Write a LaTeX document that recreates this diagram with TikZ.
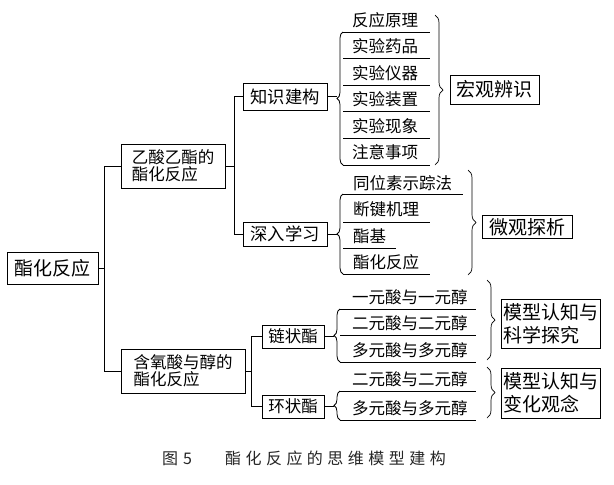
\documentclass[tikz,border=0pt]{standalone}
\usepackage{fontspec}
\setmainfont{Noto Sans CJK SC}
\newfontfamily\capfont[LetterSpace=28]{Noto Sans CJK SC}
\usetikzlibrary{decorations.pathreplacing}
\begin{document}
\begin{tikzpicture}[x=1pt,y=1pt,
  ln/.style={line width=0.8pt},
  bx/.style={draw, line width=0.9pt, inner sep=0pt, font=\fontsize{19}{23}\selectfont},
  mid/.style={draw, line width=0.9pt, inner sep=0pt, font=\fontsize{16.5}{17.5}\selectfont},
  midb/.style={draw, line width=0.9pt, inner sep=0pt, font=\fontsize{17.3}{19}\selectfont},
  item/.style={anchor=west, inner sep=0pt, font=\fontsize{16.5}{18}\selectfont},
  lbrace/.style={decorate, decoration={brace, amplitude=6pt}, line width=0.8pt},
  rbrace/.style={decorate, decoration={brace, amplitude=8pt}, line width=0.7pt}]
\fill[white] (0,0) rectangle (614,-485);
\useasboundingbox (0,0) rectangle (614,-485);
% boxes
\node[bx, minimum width=91pt, minimum height=32pt] (root) at (52.5,-268) {酯化反应};
\node[mid, minimum width=104pt, minimum height=44pt, align=left] (A) at (173,-166) {乙酸乙酯的\\酯化反应};
\node[mid, minimum width=124pt, minimum height=44pt, align=left] (B) at (183,-371) {含氧酸与醇的\\酯化反应};
\node[midb, minimum width=84pt, minimum height=27pt] (kn) at (285,-96.5) {知识建构};
\node[midb, minimum width=84pt, minimum height=24pt] (sh) at (285,-234) {深入学习};
\node[mid, minimum width=62pt, minimum height=23pt] (ch) at (293,-336.5) {链状酯};
\node[mid, minimum width=62pt, minimum height=23pt] (ri) at (293,-406.5) {环状酯};
\node[bx, minimum width=89pt, minimum height=29pt] (hg) at (494.5,-89.5) {宏观辨识};
\node[bx, minimum width=90pt, minimum height=23pt] (wg) at (527,-227) {微观探析};
\node[bx, minimum width=99pt, minimum height=49pt, align=left] (m1) at (550.5,-323.5) {模型认知与\\科学探究};
\node[bx, minimum width=99pt, minimum height=50pt, align=left] (m2) at (550.5,-393) {模型认知与\\变化观念};
% tree connectors
\coordinate (j0) at (105,-268);
\draw[ln] (root.east) -- (j0);
\draw[ln] (A.west) -- ++(-16,0) |- (B.west);
\coordinate (j1) at (235,-166);
\draw[ln] (A.east) -- (j1);
\draw[ln] (kn.west) -- ++(-8,0) |- (sh.west);
\coordinate (j2) at (252,-371);
\draw[ln] (B.east) -- (j2);
\draw[ln] (ch.west) -- ++(-10,0) |- (ri.west);
% group 1: knowledge
\node[item] (k1) at (352,-20) {反应原理};
\node[item] (k2) at (352,-46.5) {实验药品};
\node[item] (k3) at (352,-73) {实验仪器};
\node[item] (k4) at (352,-99.5) {实验装置};
\node[item] (k5) at (352,-126) {实验现象};
\node[item] (k6) at (352,-152.5) {注意事项};
\foreach \y in {32,58.5,85,111.5,138,165} \draw[ln] (343,-\y) -- (430,-\y);
\draw[lbrace] (343,-165) -- (343,-32);
\coordinate (t1) at (337,-98.5);
\draw[ln] (kn.east) -- (kn.east -| t1);
\draw[rbrace] (435,-15) -- (435,-165);
% group 2: deep study
\node[item] (s1) at (353,-183) {同位素示踪法};
\node[item] (s2) at (353,-209) {断键机理};
\node[item] (s3) at (353,-236) {酯基};
\node[item] (s4) at (353,-262) {酯化反应};
\draw[ln] (343,-194) -- (463,-194);
\draw[ln] (343,-222) -- (430,-222);
\draw[ln] (343,-248) -- (396,-248);
\draw[ln] (343,-274) -- (430,-274);
\draw[lbrace] (343,-274) -- (343,-194);
\coordinate (t2) at (337,-234);
\draw[ln] (sh.east) -- (sh.east -| t2);
\draw[rbrace] (468,-170) -- (468,-275);
% group 3: chain esters
\node[item] (c1) at (352,-297) {一元酸与一元醇};
\node[item] (c2) at (352,-323) {二元酸与二元醇};
\node[item] (c3) at (352,-350) {多元酸与多元醇};
\foreach \y in {309,335,362} \draw[ln] (340,-\y) -- (476,-\y);
\draw[lbrace] (340,-362) -- (340,-309);
\coordinate (t3) at (334,-335.5);
\draw[ln] (ch.east) -- (ch.east -| t3);
\draw[rbrace] (487,-280) -- (487,-360);
% group 4: ring esters
\node[item] (r1) at (352,-379) {二元酸与二元醇};
\node[item] (r2) at (352,-408) {多元酸与多元醇};
\foreach \y in {391,420} \draw[ln] (340,-\y) -- (476,-\y);
\draw[lbrace] (340,-420) -- (340,-391);
\coordinate (t4) at (334,-405.5);
\draw[ln] (ri.east) -- (ri.east -| t4);
\draw[rbrace] (487,-367) -- (487,-418);
% caption
\node[anchor=west, inner sep=0pt, text=black!85, font=\capfont\fontsize{16}{18}\selectfont] (cap) at (162,-458) {图\hspace{5pt}5\hspace{33pt}酯化反应的思维模型建构};
\end{tikzpicture}
\end{document}
